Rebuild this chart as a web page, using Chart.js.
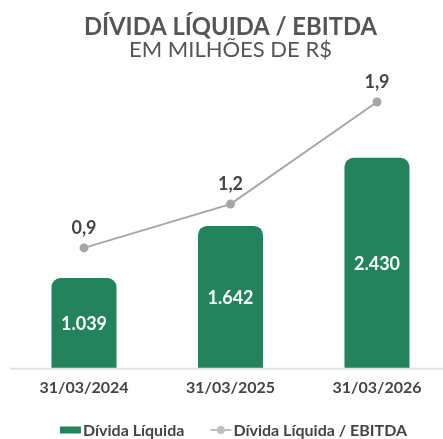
<!DOCTYPE html>
<html><head><meta charset="utf-8">
<script src="https://cdn.jsdelivr.net/npm/chart.js@4.4.1/dist/chart.umd.min.js"></script>
<style>html,body{margin:0;padding:0;background:#fff;}#wrap{width:443px;height:439px;}</style>
</head><body><div id="wrap"><canvas id="c" width="443" height="439"></canvas></div>
<script>
const categories = ["31/03/2024", "31/03/2025", "31/03/2026"];
const dividaLiquida = [1039, 1642, 2430];
const dividaEbitda = [0.9, 1.2, 1.9];
const seriesNames = ["Dívida Líquida", "Dívida Líquida / EBITDA"];
const titleText = "DÍVIDA LÍQUIDA / EBITDA";
const subtitleText = "EM MILHÕES DE R$";

const GREEN = "#22835C", GRAY = "#A6A6A6", TEXT = "#444444";
const fmtInt = v => v.toLocaleString("pt-BR");
const fmtDec = v => v.toFixed(1).replace(".", ",");

const labelPlugin = {
  id: "labels",
  beforeDatasetsDraw(chart) {
    const ctx = chart.ctx, a = chart.chartArea;
    ctx.save();
    ctx.strokeStyle = "#E3E3E3"; ctx.lineWidth = 2;
    ctx.beginPath();
    ctx.moveTo(a.left - 74, a.bottom + 1); ctx.lineTo(chart.width, a.bottom + 1);
    ctx.stroke();
    ctx.restore();
  },
  afterDatasetsDraw(chart) {
    const ctx = chart.ctx;
    ctx.save();
    ctx.textAlign = "center"; ctx.textBaseline = "middle";
    ctx.font = "bold 18px Lato";
    const bars = chart.getDatasetMeta(1).data;
    bars.forEach((b, i) => {
      ctx.fillStyle = "#ffffff";
      ctx.fillText(fmtInt(dividaLiquida[i]), b.x, (b.y + b.base) / 2 + 1);
    });
    const pts = chart.getDatasetMeta(0).data;
    pts.forEach((p, i) => {
      ctx.fillStyle = TEXT;
      ctx.fillText(fmtDec(dividaEbitda[i]), p.x, p.y - 20);
    });
    ctx.restore();
  },
  afterDraw(chart) {
    const ctx = chart.ctx, a = chart.chartArea;
    ctx.save();
    ctx.font = "bold 16px Lato";
    ctx.textBaseline = "middle"; ctx.textAlign = "left";
    const mk = 21, gap = 2, between = 26;
    const w0 = ctx.measureText(seriesNames[0]).width;
    const w1 = ctx.measureText(seriesNames[1]).width;
    const total = mk + gap + w0 + between + mk + gap + w1;
    let x = (a.left + a.right) / 2 + 3 - total / 2;
    const cy = chart.height - 9;
    ctx.fillStyle = GREEN;
    ctx.fillRect(x, cy - 3.5, mk, 7);
    x += mk + gap;
    ctx.fillStyle = TEXT;
    ctx.fillText(seriesNames[0], x, cy + 1);
    x += w0 + between;
    ctx.strokeStyle = "#BFBFBF"; ctx.lineWidth = 2;
    ctx.beginPath(); ctx.moveTo(x, cy); ctx.lineTo(x + mk, cy); ctx.stroke();
    ctx.fillStyle = "#BFBFBF";
    ctx.beginPath(); ctx.arc(x + mk / 2, cy, 4, 0, Math.PI * 2); ctx.fill();
    x += mk + gap;
    ctx.fillStyle = TEXT;
    ctx.fillText(seriesNames[1], x, cy + 1);
    ctx.restore();
  }
};

new Chart(document.getElementById("c"), {
  type: "bar",
  data: {
    labels: categories,
    datasets: [
      {
        type: "line", label: seriesNames[1], data: dividaEbitda, yAxisID: "y1",
        borderColor: GRAY, backgroundColor: GRAY, borderWidth: 2,
        pointRadius: 4.5, pointBackgroundColor: GRAY, pointBorderWidth: 0,
        tension: 0, order: 0, clip: false
      },
      {
        type: "bar", label: seriesNames[0], data: dividaLiquida, yAxisID: "y",
        backgroundColor: GREEN, borderRadius: {topLeft: 9, topRight: 9, bottomLeft: 0, bottomRight: 0},
        borderSkipped: false, barPercentage: 1, categoryPercentage: 0.444, order: 1, clip: false
      }
    ]
  },
  options: {
    responsive: false, animation: false, devicePixelRatio: 1,
    layout: { padding: { left: 84, right: 66, top: 9, bottom: 32 } },
    plugins: {
      title: { display: true, text: titleText, color: "#555555", font: { family: "Lato", size: 24, weight: "bold", lineHeight: 1.0 }, padding: { top: 6, bottom: 0 } },
      subtitle: { display: true, text: subtitleText, color: "#555555", font: { family: "Lato", size: 22, weight: "normal", lineHeight: 1.0 }, padding: { top: 0, bottom: 7 } },
      legend: { display: false },
      tooltip: { enabled: false }
    },
    scales: {
      x: {
        offset: false,
        grid: { display: false, drawTicks: false },
        border: { display: false },
        ticks: { color: TEXT, font: { family: "Lato", size: 16, weight: "bold" }, padding: 10 }
      },
      y: { display: false, min: 0, max: 3470 },
      y1: { display: false, min: 0.078, max: 2.133 }
    }
  },
  plugins: [labelPlugin]
});
</script>
</body></html>
